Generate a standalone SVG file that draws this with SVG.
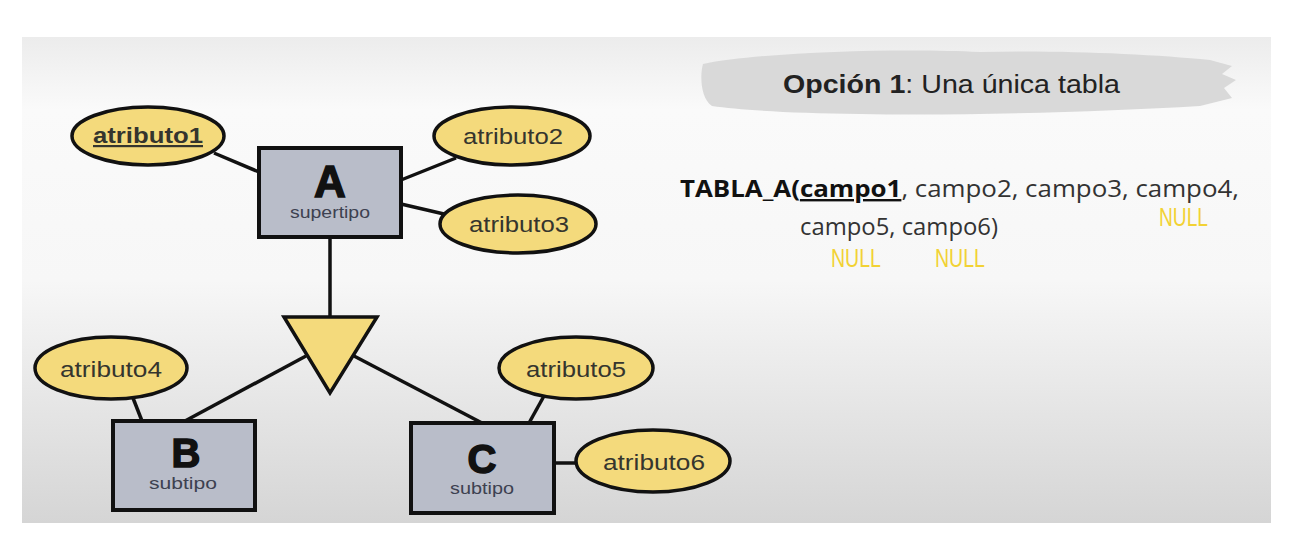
<svg xmlns="http://www.w3.org/2000/svg" width="1314" height="556" viewBox="0 0 1314 556">
<defs>
<linearGradient id="bg" x1="0" y1="0" x2="0" y2="1">
<stop offset="0" stop-color="#ececec"/>
<stop offset="0.15" stop-color="#fafafa"/>
<stop offset="0.5" stop-color="#f7f7f7"/>
<stop offset="1" stop-color="#d5d5d5"/>
</linearGradient>
<style>
.attr{fill:#f4da7c;stroke:#111;stroke-width:3.5}
.ent{fill:#b9bdc9;stroke:#111;stroke-width:4}
.at{font-family:"Liberation Sans",Arial,sans-serif;font-size:22px;fill:#35352e;text-anchor:middle}
.big{font-family:"Liberation Sans",Arial,sans-serif;font-weight:bold;fill:#111;stroke:#111;stroke-width:1.5;text-anchor:middle}
.sub{font-family:"Liberation Sans",Arial,sans-serif;font-size:17px;fill:#3d4150;text-anchor:middle}
.ln{stroke:#111;stroke-width:3.5;fill:none}
.rt{font-family:"Open Sans","Liberation Sans",sans-serif;font-size:24px;fill:#333}
.ttl{font-family:"Liberation Sans",Arial,sans-serif;font-size:25px;fill:#222}
.null{font-family:"Liberation Sans",sans-serif;font-size:26px;fill:#f2d234}
</style>
</defs>
<rect x="0" y="0" width="1314" height="556" fill="#ffffff"/>
<rect x="22" y="37" width="1249" height="486" fill="url(#bg)"/>
<g id="connectors">
<line class="ln" x1="214" y1="153" x2="259" y2="172"/>
<line class="ln" x1="456" y1="158" x2="401" y2="180"/>
<line class="ln" x1="444" y1="214" x2="401" y2="204"/>
<line class="ln" x1="330" y1="237" x2="330" y2="316"/>
<line class="ln" x1="306" y1="356" x2="185" y2="421"/>
<line class="ln" x1="354" y1="356" x2="482" y2="423"/>
<line class="ln" x1="133" y1="398" x2="142" y2="421"/>
<line class="ln" x1="544" y1="396" x2="529" y2="423"/>
<line class="ln" x1="554" y1="463" x2="576" y2="463"/>
</g>
<g id="attr1"><ellipse class="attr" cx="148" cy="136" rx="76" ry="29"/><text class="at" x="148" y="143" font-weight="bold" text-decoration="underline" textLength="110" lengthAdjust="spacingAndGlyphs">atributo1</text></g>
<g id="attr2"><ellipse class="attr" cx="512" cy="136" rx="78" ry="29"/><text class="at" x="513" y="144" textLength="100" lengthAdjust="spacingAndGlyphs">atributo2</text></g>
<g id="attr3"><ellipse class="attr" cx="518" cy="224" rx="78" ry="29"/><text class="at" x="519" y="232" textLength="100" lengthAdjust="spacingAndGlyphs">atributo3</text></g>
<g id="entA"><rect class="ent" x="259" y="148" width="142" height="89"/><text class="big" x="330" y="197" font-size="44">A</text><text class="sub" x="330" y="218" textLength="80" lengthAdjust="spacingAndGlyphs">supertipo</text></g>
<g id="isa"><polygon class="attr" points="284,317 377,317 330,393"/></g>
<g id="attr4"><ellipse class="attr" cx="111" cy="368" rx="76" ry="31"/><text class="at" x="111" y="377" textLength="102" lengthAdjust="spacingAndGlyphs">atributo4</text></g>
<g id="entB"><rect class="ent" x="113" y="421" width="142" height="89"/><text class="big" x="186" y="467" font-size="40">B</text><text class="sub" x="183" y="489" textLength="68" lengthAdjust="spacingAndGlyphs">subtipo</text></g>
<g id="attr5"><ellipse class="attr" cx="576" cy="368" rx="77" ry="31"/><text class="at" x="576" y="377" textLength="100" lengthAdjust="spacingAndGlyphs">atributo5</text></g>
<g id="entC"><rect class="ent" x="411" y="423" width="143" height="90"/><text class="big" x="482" y="473" font-size="40">C</text><text class="sub" x="482" y="494" textLength="64" lengthAdjust="spacingAndGlyphs">subtipo</text></g>
<g id="attr6"><ellipse class="attr" cx="653" cy="461" rx="77" ry="31"/><text class="at" x="654" y="470" textLength="102" lengthAdjust="spacingAndGlyphs">atributo6</text></g>
<g id="title">
<path d="M703,64 C760,52 900,48 980,52 C1060,50 1150,54 1210,60 L1232,66 L1222,74 L1236,80 L1224,88 L1232,98 L1200,106 C1100,112 960,116 860,114 C790,113 740,110 712,106 C700,98 700,74 703,64 Z" fill="#d9d9d9"/>
<text class="ttl" x="783" y="93" textLength="337" lengthAdjust="spacingAndGlyphs"><tspan font-weight="bold">Opción 1</tspan>: Una única tabla</text>
</g>
<g id="table">
<text class="rt" x="680" y="197" textLength="559" lengthAdjust="spacingAndGlyphs"><tspan font-weight="bold" fill="#111">TABLA_A(</tspan><tspan font-weight="bold" fill="#111" text-decoration="underline">campo1</tspan>, campo2, campo3, campo4,</text>
<text class="rt" x="800" y="235" textLength="198" lengthAdjust="spacingAndGlyphs">campo5, campo6)</text>
<text class="null" x="1159" y="226" textLength="49" lengthAdjust="spacingAndGlyphs">NULL</text>
<text class="null" x="831" y="267" textLength="50" lengthAdjust="spacingAndGlyphs">NULL</text>
<text class="null" x="935" y="267" textLength="50" lengthAdjust="spacingAndGlyphs">NULL</text>
</g>
</svg>
